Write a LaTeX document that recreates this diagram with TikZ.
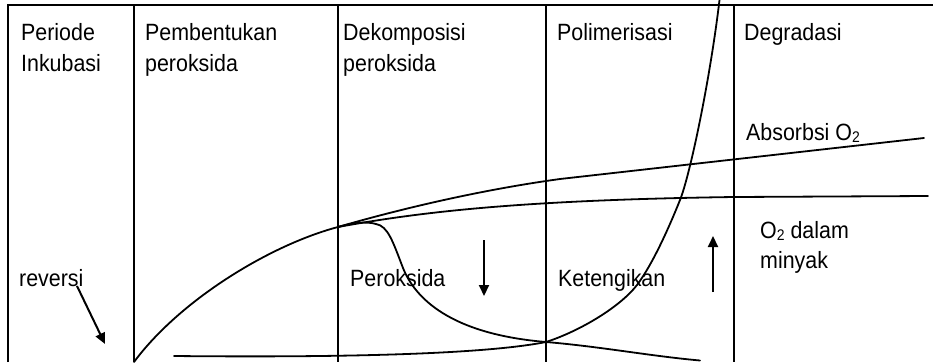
\documentclass[tikz,border=0pt]{standalone}
\usepackage{fontspec}
\setmainfont{Liberation Sans}
\usetikzlibrary{arrows.meta}
\newcommand\subtwo{\raisebox{-2.5pt}{\fontsize{14}{14}\selectfont 2}}
\newcommand\tx[1]{\scalebox{1}[1.1]{#1}}
\begin{document}
\begin{tikzpicture}[x=1pt,y=-1pt,
  lbl/.style={anchor=base west, inner sep=0pt, font=\fontsize{21.4}{30}\selectfont},
  divider/.style={line width=2.2pt},
  frame/.style={line width=1.5pt},
  curve/.style={line width=1.8pt, line join=round, line cap=round},
  arr/.style={line width=2pt, -{Triangle[length=11pt,width=10pt]}}]
\useasboundingbox (0,0) rectangle (933,362);

% frame and dividers
\draw[frame] (8,362) -- (8,5) -- (933,5);
\draw[divider] (134,5) -- (134,362);
\draw[divider] (338,5) -- (338,362);
\draw[divider] (546,5) -- (546,362);
\draw[divider] (734,5) -- (734,362);

% headers
\node[lbl] (h1a) at (21,40) {\tx{Periode}};
\node[lbl] (h1b) at (21,71) {\tx{Inkubasi}};
\node[lbl] (h2a) at (145,40) {\tx{Pembentukan}};
\node[lbl] (h2b) at (145,71) {\tx{peroksida}};
\node[lbl] (h3a) at (343,40) {\tx{Dekomposisi}};
\node[lbl] (h3b) at (343,71) {\tx{peroksida}};
\node[lbl] (h4) at (557,40) {\tx{Polimerisasi}};
\node[lbl] (h5) at (744,40) {\tx{Degradasi}};

% curve labels
\node[lbl] (abs) at (746,140) {\tx{Absorbsi O\subtwo}};
\node[lbl] (o2a) at (760,238) {\tx{O\subtwo{} dalam}};
\node[lbl] (o2b) at (760,268) {\tx{minyak}};
\node[lbl] (rev) at (19,286) {\tx{reversi}};
\node[lbl] (per) at (350,286) {\tx{Peroksida}};
\node[lbl] (ket) at (558,286) {\tx{Ketengikan}};

% key points
\coordinate (start) at (134,362);
\coordinate (split) at (338,227);
\coordinate (absend) at (924,138);
\coordinate (minend) at (928,196);
\coordinate (perend) at (700,360.5);
\coordinate (ketstart) at (174,356);
\coordinate (cross) at (546,342);
\coordinate (kettop) at (719.5,0);

% rising main curve
\draw[curve] (start) .. controls (180,300) and (270,245) .. (split);
% absorbsi O2
\draw[curve] (split) .. controls (400,209) and (480,190) .. (560,179) -- (absend);
% O2 dalam minyak
\draw[curve] (split) .. controls (420,212) and (520,200) .. (734,197) -- (minend);
% peroksida
\draw[curve] (split) .. controls (352,223) and (366,221) .. (376,224)
  .. controls (388,226) and (393,242) .. (403,268)
  .. controls (415,298) and (450,334) .. (cross)
  .. controls (600,346.5) and (650,356) .. (perend);
% ketengikan
\draw[curve] (ketstart) .. controls (330,357.5) and (480,355) .. (cross)
  .. controls (580,331) and (620,307) .. (637,285)
  .. controls (652,265) and (668,230) .. (680,200)
  .. controls (690,175) and (710,80) .. (kettop);

% arrows
\coordinate (r1) at (77,286);
\coordinate (r2) at (105,344);
\draw[arr] (r1) -- (r2);
\coordinate (d1) at (484,240);
\coordinate (d2) at (484,296);
\draw[arr] (d1) -- (d2);
\coordinate (u1) at (713,292);
\coordinate (u2) at (713,236);
\draw[arr] (u1) -- (u2);
\end{tikzpicture}
\end{document}
